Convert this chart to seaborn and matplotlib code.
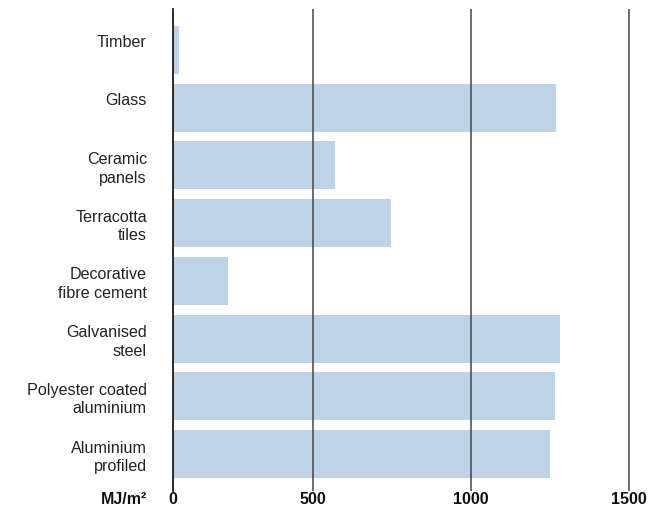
import matplotlib
matplotlib.use("Agg")
import matplotlib.pyplot as plt
import matplotlib.transforms as mtransforms
import seaborn as sns
import pandas as pd

categories = ["Timber", "Glass", "Ceramic\npanels", "Terracotta\ntiles",
              "Decorative\nfibre cement", "Galvanised\nsteel",
              "Polyester coated\naluminium", "Aluminium\nprofiled"]
values = [76, 1270, 570, 746, 231, 1283, 1267, 1251]
tick_values = [500, 1000, 1500]
tick_labels = ["0", "500", "1000", "1500"]
unit_label = "MJ/m²"

df = pd.DataFrame({"material": categories, "energy": values})

sns.set_theme(style="white")
plt.rcParams["font.family"] = ["Liberation Sans", "DejaVu Sans"]

fig = plt.figure(figsize=(6.7, 5.09), dpi=100)
ax = fig.add_axes([172.5 / 670, 1 - 491 / 509, (638 - 172.5) / 670, (491 - 9) / 509])

sns.barplot(data=df, y="material", x="energy", orient="h", color="#bfd3e8",
            saturation=1, width=0.83, linewidth=0, ax=ax, zorder=1)

XMIN = 55
ax.set_xlim(XMIN, 1530)
ax.set_ylim(7.64, -0.71)
ax.set_xticks([XMIN] + tick_values)
ax.set_xticklabels(tick_labels, fontsize=11.5, fontweight="bold", color="#111111")
ax.set_xlabel("")
ax.set_ylabel("")
ax.tick_params(axis="y", length=0, pad=18.5, labelsize=11.6, labelcolor="#222222")
ax.tick_params(axis="x", length=0, pad=1)
for lbl in ax.get_yticklabels():
    lbl.set_linespacing(1.3)
    if "\n" not in lbl.get_text():
        lbl.set_transform(lbl.get_transform() +
                          mtransforms.ScaledTranslation(0, 9 / 100, fig.dpi_scale_trans))

ax.grid(axis="x", color="#444444", linewidth=1.1, zorder=2)
ax.grid(axis="y", visible=False)
ax.set_axisbelow(False)
for s in ["top", "right", "bottom"]:
    ax.spines[s].set_visible(False)
ax.spines["left"].set_color("#222222")
ax.spines["left"].set_linewidth(1.3)
ax.spines["left"].set_zorder(3)

fig.text(147 / 670, 1 - 500 / 509, unit_label, ha="right", va="center",
         fontsize=11.5, fontweight="bold", color="#111111")

fig.savefig("out.png", dpi=100)
